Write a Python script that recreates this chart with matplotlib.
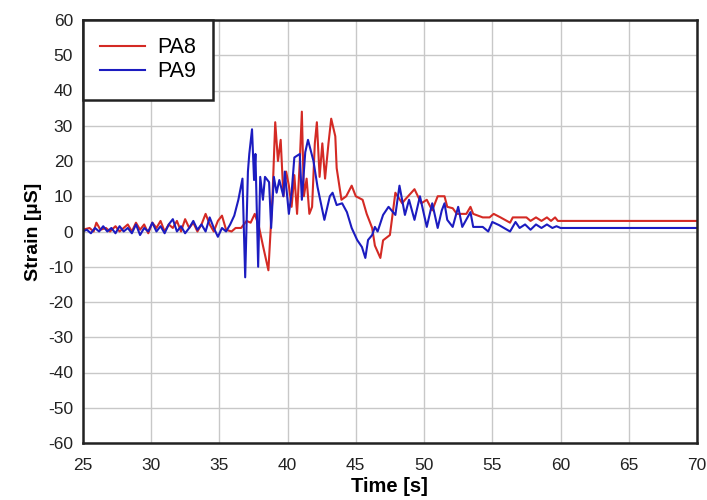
import numpy as np
import matplotlib.pyplot as plt

plt.rcParams["font.family"] = ["Liberation Sans", "DejaVu Sans"]
plt.rcParams["axes.unicode_minus"] = False

# ------------------------------------------------------------
# Data
# ------------------------------------------------------------

pa8_time = [
    25.0, 25.5, 25.8, 26.0, 26.3, 26.7, 27.0, 27.4, 27.7, 28.0, 28.3, 28.6,
    28.9, 29.2, 29.5, 29.8, 30.1, 30.4, 30.7, 31.0, 31.3, 31.6, 31.9, 32.2,
    32.5, 32.8, 33.1, 33.4, 33.7, 34.0, 34.3, 34.6, 34.9, 35.2, 35.5, 35.9,
    36.2, 36.6, 37.0, 37.3, 37.6, 37.9, 38.2, 38.6, 38.9, 39.1, 39.3, 39.5,
    39.7, 39.9, 40.1, 40.3, 40.5, 40.7, 40.9, 41.05, 41.2, 41.4, 41.6, 41.8,
    42.0, 42.15, 42.35, 42.55, 42.75, 43.0, 43.2, 43.5, 43.6, 43.95, 44.3,
    44.7, 45.0, 45.5, 45.8, 46.2, 46.4, 46.8, 47.0, 47.5, 47.9, 48.4, 48.6,
    49.3, 49.8, 50.2, 50.6, 51.0, 51.5, 51.7, 52.1, 52.4, 53.1, 53.4, 53.6,
    54.3, 54.8, 55.1, 55.6, 56.3, 56.5, 57.5, 57.8, 58.2, 58.6, 59.0, 59.3,
    59.6, 59.8, 70.0,
]
pa8_strain = [
    0.5, 1, 0, 2.5, 0.5, 1, 0, 1.5, 0, 1, 2, 0,
    2.5, 0.5, 2, -0.5, 2.5, 1, 3, 0, 2, 1, 3, 0,
    3.5, 1, 2.5, 0, 2, 5, 2, 0, 3, 4.5, 0.5, 0,
    1, 1, 3, 2.5, 5, 1.5, -4, -11, 10, 31, 20, 26,
    10, 17, 13, 7, 16, 5, 20, 34, 10, 15, 5, 7,
    25, 31, 15.5, 25, 15, 25, 32, 27, 18, 9, 10,
    13, 10, 9, 5, 1, -4, -7.5, -2.5, -1, 11, 8, 9,
    12, 8, 9, 6, 10, 10, 7, 6.6, 5, 5, 7, 5,
    4, 4, 5, 4, 2.5, 4, 4, 3, 4, 3, 4, 3,
    4, 3, 3,
]

pa9_time = [
    25.0, 25.3, 25.6, 25.9, 26.2, 26.5, 26.8, 27.1, 27.4, 27.7, 28.0, 28.3,
    28.6, 28.9, 29.2, 29.5, 29.8, 30.1, 30.4, 30.7, 31.0, 31.3, 31.6, 31.9,
    32.2, 32.5, 32.8, 33.1, 33.4, 33.7, 34.0, 34.3, 34.6, 34.9, 35.2, 35.5,
    35.8, 36.1, 36.4, 36.7, 36.9, 37.1, 37.2, 37.4, 37.55, 37.65, 37.85, 38.0,
    38.2, 38.35, 38.65, 38.8, 39.0, 39.2, 39.4, 39.7, 39.8, 40.1, 40.3, 40.5,
    40.9, 41.05, 41.3, 41.5, 41.9, 42.2, 42.5, 42.7, 43.1, 43.3, 43.6, 44.0,
    44.35, 44.7, 45.1, 45.45, 45.7, 45.9, 46.2, 46.4, 46.6, 47.0, 47.4, 47.9,
    48.2, 48.6, 48.9, 49.3, 49.7, 50.2, 50.6, 51.0, 51.3, 51.5, 51.7, 52.1,
    52.5, 52.8, 53.4, 53.6, 54.3, 54.7, 55.0, 55.5, 56.3, 56.7, 57.0, 57.4,
    57.8, 58.2, 58.6, 59.0, 59.4, 59.7, 60.0, 70.0,
]
pa9_strain = [
    0, 0.5, -0.5, 1, 0, 1.5, 0, 1, -0.5, 1.5, 0, 1,
    -0.5, 2, -1, 1, 0, 2.5, 0, 1.5, -0.5, 2, 3.5, 0,
    1.5, -0.5, 1, 3, 0.5, 2, 0, 4, 1, -1.5, 1, 0,
    2, 4.5, 9, 15, -13, 17, 22, 29, 14.6, 22, -10, 15.5,
    9, 15.5, 14, 1, 15.5, 11, 14.6, 10, 17, 5, 11, 21,
    22, 9, 22.5, 26, 20, 12.6, 7, 3.3, 10, 11, 7.5, 8,
    5.5, 1, -2.4, -4.4, -7.5, -2.4, -1, 1.3, 0, 4.7, 7, 4.7,
    13, 4.7, 9, 3.3, 10, 1.3, 8, 1, 6, 8, 3.3, 1.3,
    7, 1.3, 5.5, 1.3, 1.3, 0, 2.7, 1.8, 0, 2.7, 1, 2,
    0.5, 2, 1, 2, 1, 1.5, 1, 1,
]

x_ticks = list(range(25, 71, 5))
y_ticks = list(range(-60, 61, 10))


def main():
    fig = plt.figure(figsize=(7.07, 5.0), dpi=100)
    ax = fig.add_axes([0.117, 0.114, 0.869, 0.846])

    ax.plot(pa8_time, pa8_strain, color="#d42a24", lw=1.5, label="PA8")
    ax.plot(pa9_time, pa9_strain, color="#1c1cc0", lw=1.5, label="PA9")

    ax.set_xlim(25, 70)
    ax.set_ylim(-60, 60)
    ax.set_xticks(x_ticks)
    ax.set_yticks(y_ticks)
    ax.tick_params(length=0, labelsize=12.5, colors="#222222")
    ax.tick_params(axis="x", pad=11)
    ax.tick_params(axis="y", pad=7)
    ax.grid(True, color="#c8c8c8", lw=1.0)
    ax.set_axisbelow(True)
    for spine in ax.spines.values():
        spine.set_linewidth(1.8)
        spine.set_color("#222222")

    ax.set_xlabel("Time [s]", fontsize=14.5, fontweight="bold", labelpad=3)
    ax.set_ylabel("Strain [µS]", fontsize=14, fontweight="bold", labelpad=4)

    leg = ax.legend(loc="upper left", fontsize=15.5, fancybox=False,
                    borderaxespad=0, framealpha=1, edgecolor="#222222",
                    handlelength=2.1, handletextpad=0.55, borderpad=0.8,
                    labelspacing=0.15)
    leg.get_frame().set_linewidth(1.8)

    fig.savefig("out.png", dpi=100)


if __name__ == "__main__":
    main()
